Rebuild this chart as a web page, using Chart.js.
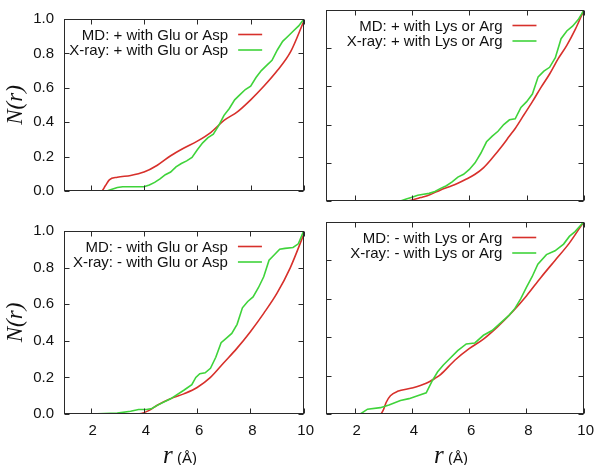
<!DOCTYPE html>
<html>
<head>
<meta charset="utf-8">
<script src="https://cdn.jsdelivr.net/npm/chart.js@4.4.1/dist/chart.umd.min.js"></script>
<style>
  body { margin: 0; background: #fff; width: 600px; height: 465px; position: relative; overflow: hidden; }
  canvas { position: absolute; }
  .xtitle { position: absolute; top: 443px; width: 120px; line-height: 24px; text-align: center;
            font-family: "Liberation Sans", Arial, sans-serif; font-size: 15px; color: #111; }
  .xtitle i { font-family: "Liberation Serif", "Times New Roman", serif; font-size: 25px; }
</style>
</head>
<body>
<canvas id="tl" width="320" height="210" style="left:0;top:0"></canvas>
<canvas id="tr" width="284" height="210" style="left:316px;top:0"></canvas>
<canvas id="bl" width="320" height="240" style="left:0;top:212px"></canvas>
<canvas id="br" width="284" height="240" style="left:316px;top:212px"></canvas>
<div class="xtitle" style="left:120px"><i>r</i> (Å)</div>
<div class="xtitle" style="left:391px"><i>r</i> (Å)</div>
<script>
// axis ticks
const rTicks = [2, 4, 6, 8, 10];
const nTicks = [0, 0.2, 0.4, 0.6, 0.8, 1.0];

// + with Glu or Asp
const mdPlusGluR = [1, 2, 2.4, 2.55, 2.7, 3.0, 3.5, 4.0, 4.5, 5.0, 5.5, 6.0, 6.5, 7.0, 7.5, 8.0, 8.5, 9.0, 9.5, 10];
const mdPlusGluN = [0, 0, 0, 0.03, 0.065, 0.08, 0.09, 0.11, 0.15, 0.205, 0.25, 0.29, 0.34, 0.41, 0.46, 0.53, 0.61, 0.70, 0.81, 0.99];
const xrPlusGluR = [1, 2.6, 2.8, 3.0, 3.2, 4.0, 4.2, 4.4, 4.6, 4.8, 5.0, 5.2, 5.4, 5.6, 5.8, 6.0, 6.2, 6.4, 6.6, 6.8, 7.0, 7.2, 7.4, 7.6, 7.8, 8.0, 8.2, 8.4, 8.6, 8.8, 9.0, 9.2, 9.4, 9.6, 9.8, 10];
const xrPlusGluN = [0, 0, 0.01, 0.02, 0.025, 0.025, 0.035, 0.05, 0.07, 0.095, 0.11, 0.14, 0.16, 0.175, 0.195, 0.24, 0.28, 0.31, 0.33, 0.38, 0.44, 0.48, 0.53, 0.56, 0.59, 0.61, 0.66, 0.70, 0.73, 0.76, 0.82, 0.87, 0.90, 0.93, 0.96, 1.0];

// + with Lys or Arg
const mdPlusLysR = [1, 3.8, 4.0, 4.3, 4.6, 5.0, 5.3, 5.6, 5.9, 6.2, 6.5, 6.8, 7.1, 7.4, 7.6, 7.9, 8.2, 8.5, 8.8, 9.1, 9.4, 9.7, 10];
const mdPlusLysN = [0, 0, 0.005, 0.018, 0.032, 0.058, 0.075, 0.093, 0.115, 0.14, 0.175, 0.225, 0.28, 0.34, 0.38, 0.45, 0.52, 0.595, 0.665, 0.745, 0.815, 0.9, 1.0];
const xrPlusLysR = [1, 3.6, 3.8, 4.0, 4.2, 4.4, 4.6, 4.8, 5.0, 5.2, 5.4, 5.6, 5.8, 6.0, 6.2, 6.4, 6.6, 6.8, 7.0, 7.2, 7.4, 7.6, 7.8, 8.0, 8.2, 8.4, 8.6, 8.8, 9.0, 9.2, 9.4, 9.6, 9.8, 10];
const xrPlusLysN = [0, 0, 0.01, 0.02, 0.03, 0.035, 0.04, 0.05, 0.066, 0.08, 0.1, 0.125, 0.14, 0.165, 0.2, 0.25, 0.31, 0.34, 0.365, 0.40, 0.425, 0.43, 0.49, 0.52, 0.56, 0.65, 0.68, 0.70, 0.75, 0.85, 0.89, 0.915, 0.95, 1.0];

// - with Glu or Asp
const mdMinusGluR = [1, 3.5, 3.9, 4.2, 4.5, 5.0, 5.5, 6.0, 6.5, 7.0, 7.5, 8.0, 8.5, 9.0, 9.5, 10];
const mdMinusGluN = [0, 0, 0.003, 0.02, 0.048, 0.083, 0.11, 0.145, 0.2, 0.28, 0.36, 0.45, 0.55, 0.66, 0.8, 0.98];
const xrMinusGluR = [1, 2.0, 2.5, 3.0, 3.5, 3.8, 4.1, 4.3, 4.5, 5.0, 5.5, 5.8, 5.95, 6.1, 6.3, 6.5, 6.7, 6.9, 7.1, 7.3, 7.5, 7.7, 7.9, 8.1, 8.3, 8.5, 8.7, 8.9, 9.1, 9.3, 9.6, 9.8, 10];
const xrMinusGluN = [0, 0, 0.002, 0.005, 0.015, 0.025, 0.025, 0.03, 0.047, 0.083, 0.13, 0.16, 0.2, 0.22, 0.225, 0.25, 0.31, 0.39, 0.415, 0.44, 0.49, 0.58, 0.615, 0.64, 0.69, 0.75, 0.84, 0.87, 0.9, 0.905, 0.91, 0.93, 1.0];

// - with Lys or Arg
const mdMinusLysR = [1, 2.9, 3.0, 3.1, 3.25, 3.5, 4.0, 4.5, 4.8, 5.0, 5.5, 6.0, 6.5, 7.0, 7.5, 8.0, 8.5, 9.0, 9.5, 10];
const mdMinusLysN = [0, 0, 0.02, 0.06, 0.095, 0.118, 0.135, 0.16, 0.185, 0.205, 0.28, 0.34, 0.39, 0.455, 0.53, 0.615, 0.71, 0.8, 0.89, 1.0];
const xrMinusLysR = [1, 2.2, 2.45, 2.9, 3.2, 3.6, 3.9, 4.2, 4.5, 4.7, 4.9, 5.1, 5.3, 5.6, 5.9, 6.2, 6.5, 6.8, 7.1, 7.4, 7.6, 7.8, 8.0, 8.2, 8.4, 8.7, 9.0, 9.3, 9.5, 9.7, 10];
const xrMinusLysN = [0, 0, 0.025, 0.033, 0.047, 0.07, 0.08, 0.095, 0.11, 0.17, 0.22, 0.255, 0.285, 0.33, 0.365, 0.37, 0.41, 0.435, 0.475, 0.515, 0.55, 0.6, 0.66, 0.715, 0.78, 0.83, 0.85, 0.885, 0.925, 0.95, 1.0];

const RED = '#d7302b';
const GREEN = '#3fd33a';
const SANS = '"Liberation Sans", Arial, sans-serif';

function toPoints(rs, ns) {
    return rs.map((r, i) => ({ x: r, y: ns[i] }));
}

// gnuplot style box with inward ticks on all four sides
const framePlugin = {
    id: 'frame',
    afterDatasetsDraw(chart) {
        const { ctx, chartArea: a, scales: { x, y } } = chart;
        const L = Math.round(a.left) + 0.5, R = Math.round(a.right) - 0.5;
        const T = Math.round(a.top) + 0.5, B = Math.round(a.bottom) - 0.5;
        ctx.save();
        ctx.strokeStyle = '#2a2a2a';
        ctx.lineWidth = 1;
        ctx.beginPath();
        x.ticks.forEach(t => {
            const px = Math.round(x.getPixelForValue(t.value)) + 0.5;
            ctx.moveTo(px, B); ctx.lineTo(px, B - 5);
            ctx.moveTo(px, T); ctx.lineTo(px, T + 5);
        });
        y.ticks.forEach(t => {
            const py = Math.round(y.getPixelForValue(t.value)) + 0.5;
            ctx.moveTo(L, py); ctx.lineTo(L + 5, py);
            ctx.moveTo(R, py); ctx.lineTo(R - 5, py);
        });
        ctx.stroke();
        ctx.strokeRect(L, T, R - L, B - T);
        ctx.restore();
    }
};

// key: right-justified text with a line sample on its right
const keyPlugin = {
    id: 'key',
    afterDraw(chart) {
        const { ctx, chartArea: a } = chart;
        const textRight = a.left + 0.684 * (a.right - a.left);
        ctx.save();
        ctx.font = '15px ' + SANS;
        ctx.textAlign = 'right';
        ctx.textBaseline = 'middle';
        chart.data.datasets.forEach((ds, i) => {
            const yy = a.top + 15.5 + i * 15.5;
            ctx.fillStyle = '#111';
            ctx.fillText(ds.label, textRight, yy + 1);
            ctx.strokeStyle = ds.borderColor;
            ctx.lineWidth = 1.6;
            ctx.beginPath();
            ctx.moveTo(textRight + 10, yy);
            ctx.lineTo(textRight + 34, yy);
            ctx.stroke();
        });
        ctx.restore();
    }
};

function makePanel(id, opts) {
    const showY = opts.left;
    const showX = opts.bottom;
    new Chart(document.getElementById(id), {
        type: 'line',
        data: {
            datasets: [{
                label: 'MD: ' + opts.label,
                data: toPoints(opts.mdR, opts.mdN),
                borderColor: RED,
                borderWidth: 1.6,
                pointRadius: 0,
                cubicInterpolationMode: 'monotone',
                order: 1
            }, {
                label: 'X-ray: ' + opts.label,
                data: toPoints(opts.xrR, opts.xrN),
                borderColor: GREEN,
                borderWidth: 1.6,
                pointRadius: 0,
                tension: 0,
                order: 0
            }]
        },
        options: {
            responsive: false,
            animation: false,
            events: [],
            layout: {
                padding: { left: showY ? 0 : 10, top: 10, right: 16, bottom: showX ? 8 : 9 }
            },
            scales: {
                x: {
                    type: 'linear',
                    min: 1,
                    max: 10,
                    afterBuildTicks: scale => { scale.ticks = rTicks.map(v => ({ value: v })); },
                    afterFit: scale => { scale.height = showX ? 30 : 0; },
                    grid: { display: false, drawTicks: false },
                    border: { display: false },
                    ticks: {
                        display: showX,
                        padding: 8,
                        labelOffset: 2,
                        maxRotation: 0,
                        color: '#111',
                        font: { family: SANS, size: 15 }
                    }
                },
                y: {
                    min: 0,
                    max: 1,
                    afterBuildTicks: scale => { scale.ticks = nTicks.map(v => ({ value: v })); },
                    afterFit: scale => { scale.width = showY ? 64 : 0; },
                    grid: { display: false, drawTicks: false },
                    border: { display: false },
                    title: {
                        display: showY,
                        text: 'N(r)',
                        color: '#111',
                        padding: { top: 2, bottom: 0 },
                        font: { family: '"Liberation Serif", "Times New Roman", serif', style: 'italic', size: 23 }
                    },
                    ticks: {
                        display: showY,
                        padding: 10,
                        color: '#111',
                        font: { family: SANS, size: 15 },
                        callback: v => v.toFixed(1)
                    }
                }
            },
            plugins: {
                legend: { display: false },
                tooltip: { enabled: false }
            }
        },
        plugins: [framePlugin, keyPlugin]
    });
}

makePanel('tl', { label: '+ with Glu or Asp', mdR: mdPlusGluR, mdN: mdPlusGluN, xrR: xrPlusGluR, xrN: xrPlusGluN, left: true, bottom: false });
makePanel('tr', { label: '+ with Lys or Arg', mdR: mdPlusLysR, mdN: mdPlusLysN, xrR: xrPlusLysR, xrN: xrPlusLysN, left: false, bottom: false });
makePanel('bl', { label: '- with Glu or Asp', mdR: mdMinusGluR, mdN: mdMinusGluN, xrR: xrMinusGluR, xrN: xrMinusGluN, left: true, bottom: true });
makePanel('br', { label: '- with Lys or Arg', mdR: mdMinusLysR, mdN: mdMinusLysN, xrR: xrMinusLysR, xrN: xrMinusLysN, left: false, bottom: true });
</script>
</body>
</html>
